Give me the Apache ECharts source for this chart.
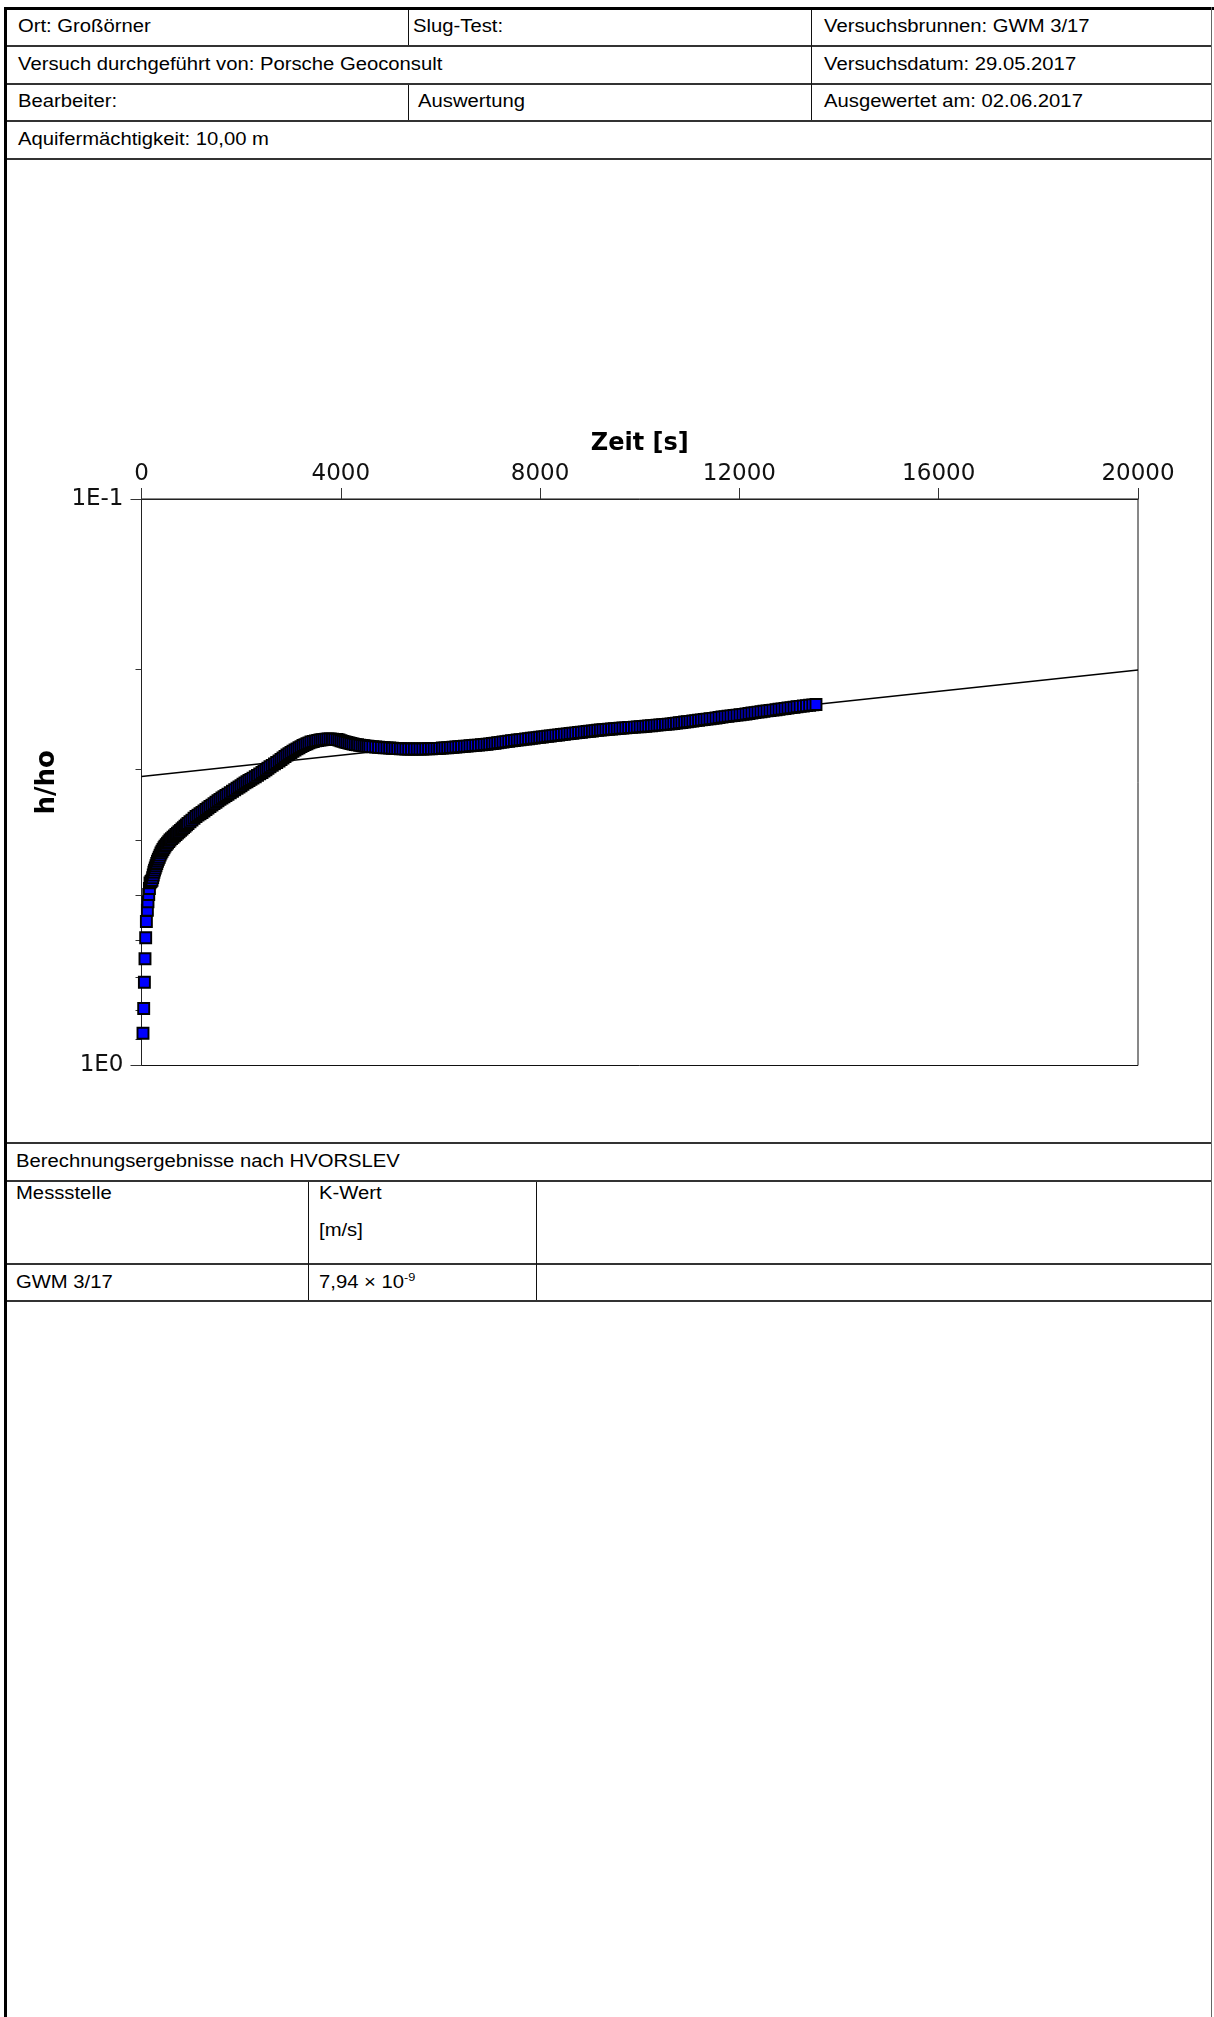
<!DOCTYPE html>
<html>
<head>
<meta charset="utf-8">
<script src="https://cdn.jsdelivr.net/npm/echarts@6.0.0/dist/echarts.min.js"></script>
<style>
  html, body { margin: 0; padding: 0; background: #fff; }
  .page { position: relative; width: 1214px; height: 2017px; overflow: hidden; }
  .ln { position: absolute; background: #333; }
  .vl { position: absolute; background: #111; width: 1px; }
  .t {
    position: absolute;
    font-family: 'Liberation Sans', Arial, sans-serif;
    font-size: 17.5px;
    color: #000;
    white-space: nowrap;
    line-height: 1;
    transform-origin: 0 50%;
    transform: translateY(-50%) scaleX(1.157);
  }
  .t sup { font-size: 11px; vertical-align: 7px; line-height: 0; }
  #chart { position: absolute; left: 8px; top: 160px; width: 1203px; height: 982px; }
</style>
</head>
<body>
<div class="page">
  <!-- outer frame -->
  <div class="ln" style="left:4px;top:7px;width:1210px;height:3px;background:#000"></div>
  <div class="ln" style="left:4px;top:7px;width:3px;height:2010px;background:#000"></div>
  <div class="ln" style="left:1211px;top:7px;width:1px;height:2010px;background:#666"></div>

  <!-- header table -->
  <div class="ln" style="left:7px;top:45px;width:1204px;height:2px"></div>
  <div class="ln" style="left:7px;top:83px;width:1204px;height:2px"></div>
  <div class="ln" style="left:7px;top:120px;width:1204px;height:2px"></div>
  <div class="ln" style="left:7px;top:158px;width:1204px;height:2px"></div>
  <div class="vl" style="left:408px;top:10px;height:35px"></div>
  <div class="vl" style="left:408px;top:85px;height:35px"></div>
  <div class="vl" style="left:811px;top:10px;height:110px"></div>

  <div class="t" style="left:18px;top:27px">Ort: Großörner</div>
  <div class="t" style="left:413px;top:27px">Slug-Test:</div>
  <div class="t" style="left:824px;top:27px">Versuchsbrunnen: GWM 3/17</div>
  <div class="t" style="left:18px;top:65px">Versuch durchgeführt von: Porsche Geoconsult</div>
  <div class="t" style="left:824px;top:65px">Versuchsdatum: 29.05.2017</div>
  <div class="t" style="left:18px;top:102px">Bearbeiter:</div>
  <div class="t" style="left:418px;top:102px">Auswertung</div>
  <div class="t" style="left:824px;top:102px">Ausgewertet am: 02.06.2017</div>
  <div class="t" style="left:18px;top:140px">Aquifermächtigkeit: 10,00 m</div>

  <div id="chart"></div>

  <!-- results table -->
  <div class="ln" style="left:7px;top:1142px;width:1204px;height:2px"></div>
  <div class="ln" style="left:7px;top:1180px;width:1204px;height:2px"></div>
  <div class="ln" style="left:7px;top:1263px;width:1204px;height:2px"></div>
  <div class="ln" style="left:7px;top:1300px;width:1204px;height:2px"></div>
  <div class="vl" style="left:308px;top:1182px;height:118px"></div>
  <div class="vl" style="left:536px;top:1182px;height:118px"></div>

  <div class="t" style="left:16px;top:1162px">Berechnungsergebnisse nach HVORSLEV</div>
  <div class="t" style="left:16px;top:1194px">Messstelle</div>
  <div class="t" style="left:319px;top:1194px">K-Wert</div>
  <div class="t" style="left:319px;top:1231px">[m/s]</div>
  <div class="t" style="left:16px;top:1283px">GWM 3/17</div>
  <div class="t" style="left:319px;top:1283px">7,94 × 10<sup>-9</sup></div>
</div>

<script>
// Messwerte: Zeit [s] und h/h0
const zeitS = [
  30, 44, 58, 70, 84, 98, 118, 130, 145, 159, 171, 191,
  211, 224, 236, 249, 261, 276, 291, 306, 321, 338, 356, 373, 391, 411, 431, 452, 472,
  497, 522, 547, 572, 602, 632, 662, 692, 722, 752, 783, 813, 843, 873, 903, 933,
  973, 1013, 1054, 1094, 1134, 1174, 1214, 1254,
  1294, 1334, 1374, 1415, 1455, 1495, 1535, 1575, 1615, 1655, 1695, 1736,
  1781, 1826, 1871, 1917, 1957, 1997, 2037, 2077, 2117, 2157, 2197, 2238,
  2283, 2328, 2373, 2418, 2458, 2498, 2538, 2579, 2624, 2669, 2714, 2760,
  2800, 2840, 2880, 2920, 2960, 3000, 3040, 3081, 3121, 3161, 3201, 3241,
  3281, 3321, 3361, 3402, 3447, 3492, 3537, 3582,
  3622, 3662, 3702, 3743, 3788, 3833, 3878, 3924, 3964, 4004, 4044, 4084,
  4124, 4164, 4204, 4245, 4290, 4335, 4380, 4425, 4465, 4505, 4545, 4586,
  4643, 4700, 4757, 4814, 4870, 4927, 4981, 5034, 5088, 5141, 5195, 5248,
  5305, 5362, 5419, 5476, 5533, 5590, 5647, 5704, 5761, 5818, 5874, 5931,
  5984, 6038, 6091, 6145, 6198, 6252,
  6309, 6366, 6423, 6480, 6536, 6593, 6650, 6707, 6764, 6821, 6878, 6935,
  6988, 7042, 7095, 7149, 7202, 7256, 7313, 7370, 7427, 7484, 7540, 7597,
  7654, 7711, 7768, 7825, 7881, 7938, 7991, 8045, 8098, 8152, 8205, 8259,
  8316, 8373, 8430, 8487, 8544, 8601, 8658, 8715, 8772, 8829, 8885, 8942,
  8995, 9049, 9102, 9156, 9209, 9263, 9320, 9377, 9434, 9490, 9547, 9604,
  9662, 9720, 9777, 9835, 9893, 9950, 10008, 10066,
  10122, 10178, 10235, 10291, 10347, 10403, 10460, 10516, 10572, 10628,
  10683, 10737, 10792, 10846, 10901, 10955, 11009,
  11066, 11123, 11180, 11236, 11293, 11350, 11410, 11470, 11530, 11591, 11651, 11711,
  11771, 11831, 11891, 11952, 12012, 12072, 12132, 12192, 12252, 12313, 12373, 12433,
  12493, 12554, 12614, 12674, 12735, 12795, 12855, 12915, 12975, 13036, 13096, 13156,
  13219, 13283, 13346, 13410, 13473, 13537
];
const hH0 = [
  0.877, 0.793, 0.713, 0.648, 0.595, 0.557, 0.532, 0.514, 0.499, 0.487, 0.476, 0.4735,
  0.471, 0.466, 0.461, 0.456, 0.452, 0.448, 0.444, 0.440, 0.436, 0.4325, 0.4290, 0.4252, 0.4216, 0.4186, 0.4157, 0.4128, 0.410,
  0.4075, 0.405, 0.4025, 0.400, 0.3977, 0.3955, 0.3932, 0.391, 0.3889, 0.3867, 0.3845, 0.3824, 0.3803, 0.3782, 0.3761, 0.374,
  0.3714, 0.3688, 0.3661, 0.3635, 0.3615, 0.3595, 0.3575, 0.3555,
  0.3533, 0.3512, 0.349, 0.347, 0.345, 0.343, 0.341, 0.339, 0.3372, 0.3355, 0.3337, 0.332,
  0.330, 0.328, 0.326, 0.324, 0.3224, 0.3207, 0.3189, 0.317, 0.3155, 0.314, 0.3125, 0.311,
  0.3092, 0.3075, 0.3057, 0.304, 0.3022, 0.3005, 0.2988, 0.297, 0.2953, 0.2935, 0.2918, 0.290,
  0.2883, 0.2865, 0.2848, 0.283, 0.2816, 0.2802, 0.2788, 0.2774, 0.2761, 0.2749, 0.2736, 0.2724,
  0.2714, 0.2704, 0.2695, 0.2685, 0.2679, 0.2673, 0.2668, 0.2663,
  0.2660, 0.2657, 0.2654, 0.2652, 0.2652, 0.2654, 0.2656, 0.2658, 0.2664, 0.2671, 0.2678, 0.2685,
  0.2691, 0.2696, 0.2702, 0.2707, 0.2712, 0.2716, 0.2720, 0.2724, 0.2727, 0.2730, 0.2732, 0.2735,
  0.2738, 0.2740, 0.2743, 0.2745, 0.2748, 0.2750, 0.2752, 0.2754, 0.2756, 0.2758, 0.2760, 0.2761,
  0.2762, 0.2762, 0.2763, 0.2763, 0.2763, 0.2763, 0.2762, 0.2761, 0.2760, 0.2759, 0.2758, 0.2757,
  0.2755, 0.2752, 0.2750, 0.2748, 0.2745, 0.2743,
  0.2740, 0.2738, 0.2735, 0.2732, 0.2730, 0.2727, 0.2724, 0.2721, 0.2719, 0.2716, 0.2713, 0.2710,
  0.2706, 0.2702, 0.2698, 0.2693, 0.2689, 0.2685, 0.2681, 0.2677, 0.2672, 0.2668, 0.2664, 0.2660,
  0.2656, 0.2653, 0.2649, 0.2645, 0.2642, 0.2638, 0.2634, 0.2631, 0.2627, 0.2623, 0.2620, 0.2616,
  0.2612, 0.2609, 0.2605, 0.2601, 0.2598, 0.2594, 0.2591, 0.2587, 0.2584, 0.2580, 0.2577, 0.2573,
  0.2570, 0.2567, 0.2564, 0.2560, 0.2557, 0.2554, 0.2552, 0.2549, 0.2547, 0.2544, 0.2542, 0.2539,
  0.2537, 0.2535, 0.2532, 0.2530, 0.2528, 0.2525, 0.2523, 0.2521,
  0.2518, 0.2515, 0.2513, 0.2510, 0.2507, 0.2505, 0.2502, 0.2499, 0.2497, 0.2494,
  0.2490, 0.2487, 0.2483, 0.2480, 0.2476, 0.2473, 0.2469,
  0.2465, 0.2462, 0.2458, 0.2454, 0.2451, 0.2447, 0.2443, 0.2439, 0.2435, 0.2430, 0.2426, 0.2422,
  0.2418, 0.2415, 0.2411, 0.2407, 0.2404, 0.2400, 0.2396, 0.2391, 0.2387, 0.2383, 0.2378, 0.2374,
  0.2370, 0.2366, 0.2362, 0.2359, 0.2355, 0.2351, 0.2347, 0.2343, 0.2339, 0.2335, 0.2331, 0.2327,
  0.2323, 0.2320, 0.2316, 0.2312, 0.2309, 0.2305
];

// Ausgleichsgerade (HVORSLEV)
const fitZeit = [0, 20000];
const fitH = [0.309, 0.2004];

// Achsen
const yMajor = [0.1, 1];
const yMinor = [0.2, 0.3, 0.4, 0.5, 0.6, 0.7, 0.8, 0.9];

const chart = echarts.init(document.getElementById('chart'));

const labelFont = { fontFamily: 'DejaVu Sans', fontSize: 23, color: '#111' };
const nameFont = { fontFamily: 'DejaVu Sans', fontWeight: 'bold', color: '#000' };

chart.setOption({
  animation: false,
  grid: {
    left: 133.5, top: 339, width: 996.5, height: 566.5,
    show: true, borderColor: '#111', borderWidth: 1, backgroundColor: 'transparent'
  },
  xAxis: {
    type: 'value',
    position: 'top',
    min: 0, max: 20000, interval: 4000,
    name: 'Zeit [s]',
    nameLocation: 'middle',
    nameGap: 43,
    nameTextStyle: { ...nameFont, fontSize: 24 },
    axisLine: { show: true, onZero: false, lineStyle: { color: '#222', width: 1 } },
    axisTick: { show: true, length: 11, lineStyle: { color: '#333' } },
    axisLabel: { ...labelFont, margin: 13, formatter: v => String(v) },
    splitLine: { show: false }
  },
  yAxis: [
    {
      type: 'log', logBase: 10, inverse: true,
      min: 0.1, max: 1,
      position: 'left',
      name: 'h/ho',
      nameLocation: 'middle',
      nameRotate: 90,
      nameGap: 77,
      nameTextStyle: { ...nameFont, fontSize: 26 },
      axisLine: { show: true, onZero: false, lineStyle: { color: '#222', width: 1 } },
      axisTick: { show: true, length: 11, customValues: yMajor, lineStyle: { color: '#333' } },
      axisLabel: {
        ...labelFont, margin: 18, customValues: yMajor,
        formatter: v => '1E' + Math.round(Math.log10(v))
      },
      splitLine: { show: false }
    },
    {
      type: 'log', logBase: 10, inverse: true,
      min: 0.1, max: 1,
      position: 'left',
      axisLine: { show: false },
      axisTick: { show: true, length: 6, customValues: yMinor, lineStyle: { color: '#333' } },
      axisLabel: { show: false },
      splitLine: { show: false }
    }
  ],
  series: [
    {
      type: 'line',
      data: fitZeit.map((t, i) => [t, fitH[i]]),
      symbol: 'none',
      lineStyle: { color: '#000', width: 1.5 },
      z: 2
    },
    {
      type: 'scatter',
      data: zeitS.map((t, i) => [t, hH0[i]]),
      symbol: 'rect',
      symbolSize: 11,
      itemStyle: { color: '#0000ff', borderColor: '#000', borderWidth: 1.9, opacity: 1 },
      z: 3
    }
  ]
});
</script>
</body>
</html>
